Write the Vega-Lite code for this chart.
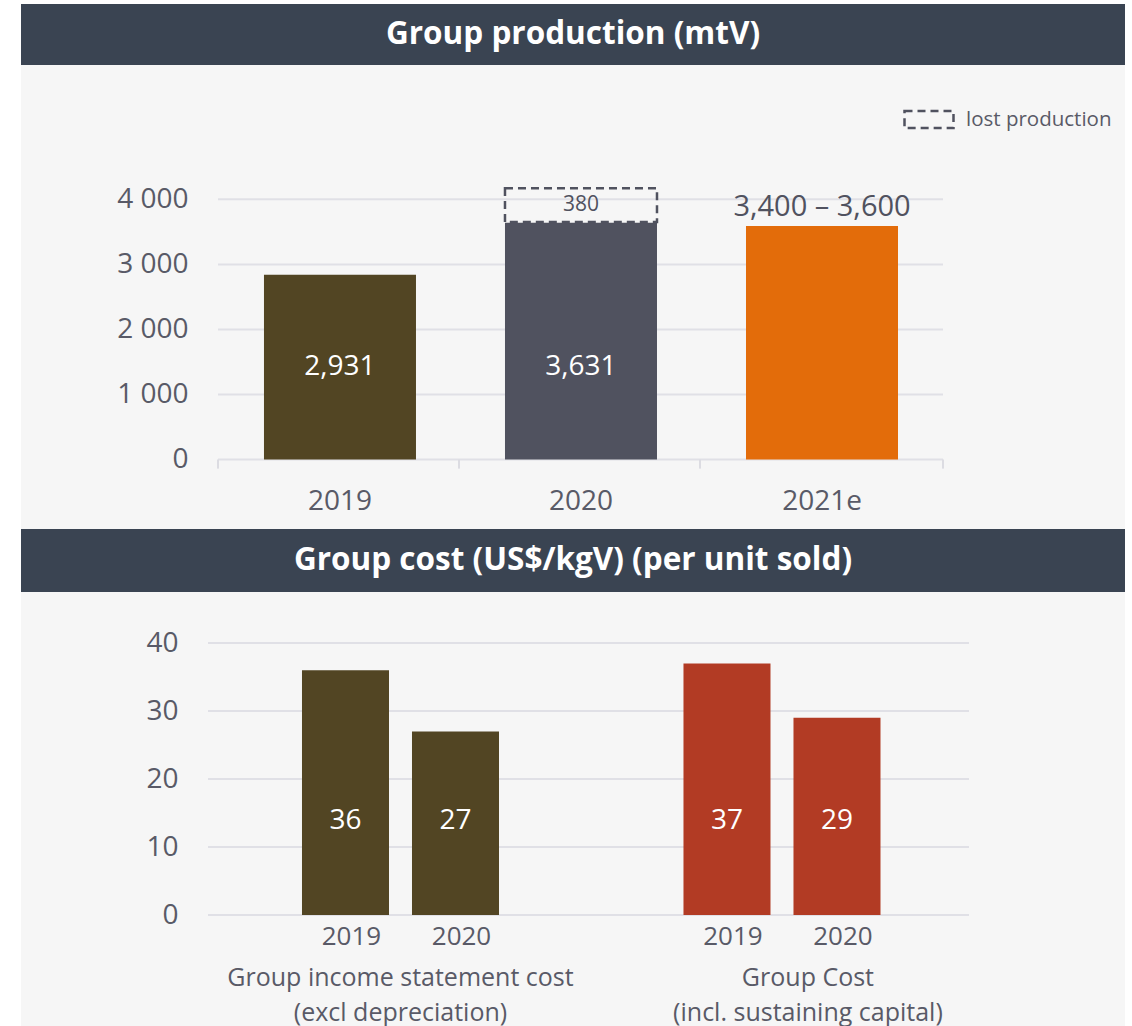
{
  "$schema": "https://vega.github.io/schema/vega-lite/v6.json",
  "background": "white",
  "padding": {"left": 21, "top": 4, "right": 0, "bottom": 0},
  "spacing": 0,
  "resolve": {"scale": {"color": "independent"}},
  "config": {
    "font": "Open Sans",
    "view": {"stroke": null},
    "axis": {"labelFont": "Open Sans", "labelColor": "#595a67"},
    "legend": {"labelFont": "Open Sans"}
  },
  "datasets": {
    "production": [
      {"year": "2019", "value": 2840, "inner": "2,931", "outer": ""},
      {"year": "2020", "value": 3640, "inner": "3,631", "outer": ""},
      {"year": "2021e", "value": 3590, "inner": "", "outer": "3,400 – 3,600"}
    ],
    "lost": [
      {"year": "2020", "start": 3650, "end": 4170, "label": "380", "kind": "lost production"}
    ],
    "gridTop": [{"tick": 0}, {"tick": 1000}, {"tick": 2000}, {"tick": 3000}, {"tick": 4000}],
    "cost": [
      {"group": "Group income statement cost (excl depreciation)", "year": "2019", "value": 36, "label": "36"},
      {"group": "Group income statement cost (excl depreciation)", "year": "2020", "value": 27, "label": "27"},
      {"group": "Group Cost (incl. sustaining capital)", "year": "2019", "value": 37, "label": "37"},
      {"group": "Group Cost (incl. sustaining capital)", "year": "2020", "value": 29, "label": "29"}
    ],
    "groups": [
      {"group": "Group income statement cost (excl depreciation)", "lines": ["Group income statement cost", "(excl depreciation)"]},
      {"group": "Group Cost (incl. sustaining capital)", "lines": ["Group Cost", "(incl. sustaining capital)"]}
    ],
    "gridBottom": [{"tick": 0}, {"tick": 10}, {"tick": 20}, {"tick": 30}, {"tick": 40}]
  },
  "vconcat": [
    {
      "width": 1104,
      "height": 61,
      "view": {"fill": "#3a4452", "stroke": null},
      "data": {"values": [{"title": "Group production (mtV)"}]},
      "mark": {"type": "text", "color": "white", "fontSize": 31.5, "fontWeight": "bold", "baseline": "middle", "font": "Open Sans"},
      "encoding": {"text": {"field": "title", "type": "nominal"}}
    },
    {
      "width": 1104,
      "height": 464,
      "view": {"fill": "#f6f6f6", "stroke": null},
      "layer": [
        {
          "data": {"name": "gridTop"},
          "mark": {"type": "rule", "color": "#e0e0e6", "strokeWidth": 2},
          "encoding": {
            "x": {"datum": "2019", "bandPosition": -0.3026, "title": null},
            "x2": {"datum": "2021e", "bandPosition": 1.296},
            "y": {"field": "tick", "type": "quantitative", "title": null}
          }
        },
        {
          "data": {"name": "production"},
          "mark": {"type": "rule", "color": "#dcdce2", "strokeWidth": 2},
          "encoding": {
            "x": {"field": "year", "type": "nominal", "bandPosition": -0.3026, "title": null},
            "y": {"datum": 0},
            "y2": {"datum": -140}
          }
        },
        {
          "data": {"name": "lost"},
          "mark": {"type": "rule", "color": "#dcdce2", "strokeWidth": 2},
          "encoding": {
            "x": {"datum": "2021e", "bandPosition": 1.296, "title": null},
            "y": {"datum": 0},
            "y2": {"datum": -140}
          }
        },
        {
          "data": {"name": "production"},
          "mark": {"type": "bar"},
          "encoding": {
            "x": {
              "field": "year", "type": "nominal", "title": null, "sort": null,
              "scale": {"domain": ["2019", "2020", "2021e"], "paddingInner": 0.3693, "paddingOuter": 0.975, "align": 0.517},
              "axis": {"orient": "bottom", "offset": -69.5, "domain": false, "ticks": false, "labelFontSize": 28, "labelPadding": 42, "labelAngle": 0, "labelAlign": "center", "grid": false, "title": null}
            },
            "y": {
              "field": "value", "type": "quantitative", "title": null,
              "scale": {"domain": [-1068, 6065], "nice": false, "zero": false},
              "axis": {"values": [0, 1000, 2000, 3000, 4000], "offset": -197, "labelPadding": 30, "labelFontSize": 28, "labelExpr": "replace(format(datum.value, ','), ',', ' ')", "ticks": false, "domain": false, "grid": false, "title": null}
            },
            "y2": {"datum": 0},
            "color": {"field": "year", "type": "nominal", "scale": {"domain": ["2019", "2020", "2021e"], "range": ["#524523", "#50525f", "#e36c0a"]}, "legend": null}
          }
        },
        {
          "data": {"name": "lost"},
          "mark": {"type": "bar", "fill": "transparent", "stroke": "#50525f", "strokeWidth": 2.5},
          "encoding": {
            "x": {"field": "year", "type": "nominal", "title": null},
            "y": {"field": "end", "type": "quantitative", "title": null},
            "y2": {"field": "start"},
            "strokeDash": {
              "field": "kind", "type": "nominal",
              "scale": {"domain": ["lost production"], "range": [[8, 5]]},
              "legend": {"orient": "none", "legendX": 882, "legendY": 89.5, "title": null, "symbolType": "M-1,-0.35H1V0.35H-1Z", "symbolSize": 2401, "symbolStrokeColor": "#50525f", "symbolFillColor": "transparent", "symbolStrokeWidth": 2.5, "labelFontSize": 20.5, "labelColor": "#595a67", "labelOffset": 11}
            }
          }
        },
        {
          "data": {"name": "lost"},
          "mark": {"type": "text", "fontSize": 21, "color": "#50525f", "baseline": "middle"},
          "encoding": {
            "x": {"field": "year", "type": "nominal", "title": null},
            "y": {"datum": 3910},
            "text": {"field": "label", "type": "nominal"}
          }
        },
        {
          "data": {"name": "production"},
          "mark": {"type": "text", "fontSize": 28, "color": "white", "baseline": "middle"},
          "encoding": {
            "x": {"field": "year", "type": "nominal", "title": null},
            "y": {"datum": 1420},
            "text": {"field": "inner", "type": "nominal"}
          }
        },
        {
          "data": {"name": "production"},
          "mark": {"type": "text", "fontSize": 29, "color": "#50525f", "baseline": "alphabetic", "dy": -10},
          "encoding": {
            "x": {"field": "year", "type": "nominal", "title": null},
            "y": {"field": "value", "type": "quantitative", "title": null},
            "text": {"field": "outer", "type": "nominal"}
          }
        }
      ]
    },
    {
      "width": 1104,
      "height": 63,
      "view": {"fill": "#3a4452", "stroke": null},
      "data": {"values": [{"title": "Group cost (US$/kgV) (per unit sold)"}]},
      "mark": {"type": "text", "color": "white", "fontSize": 31.5, "fontWeight": "bold", "baseline": "middle", "font": "Open Sans"},
      "encoding": {"text": {"field": "title", "type": "nominal"}}
    },
    {
      "width": 1104,
      "height": 434,
      "view": {"fill": "#f6f6f6", "stroke": null},
      "layer": [
        {
          "data": {"name": "gridBottom"},
          "mark": {"type": "rule", "color": "#e0e0e6", "strokeWidth": 2},
          "encoding": {
            "x": {"datum": "Group income statement cost (excl depreciation)", "bandPosition": -0.375, "title": null, "axis": null},
            "x2": {"datum": "Group Cost (incl. sustaining capital)", "bandPosition": 1.35},
            "y": {"field": "tick", "type": "quantitative", "title": null}
          }
        },
        {
          "data": {"name": "cost"},
          "mark": {"type": "bar"},
          "encoding": {
            "x": {
              "field": "group", "type": "nominal", "title": null, "sort": null,
              "scale": {"domain": ["Group income statement cost (excl depreciation)", "Group Cost (incl. sustaining capital)"], "paddingInner": 0.4233, "paddingOuter": 0.6586, "align": 0.5363},
              "axis": null
            },
            "xOffset": {"field": "year", "type": "nominal", "scale": {"domain": ["2019", "2020"], "paddingInner": 0.209, "paddingOuter": 0.1045}},
            "y": {
              "field": "value", "type": "quantitative", "title": null,
              "scale": {"domain": [-16.32, 47.5], "nice": false, "zero": false},
              "axis": {"values": [0, 10, 20, 30, 40], "offset": -187, "labelPadding": 30, "labelFontSize": 28, "ticks": false, "domain": false, "grid": false, "title": null}
            },
            "y2": {"datum": 0},
            "color": {"field": "group", "type": "nominal", "scale": {"domain": ["Group income statement cost (excl depreciation)", "Group Cost (incl. sustaining capital)"], "range": ["#524523", "#b23b24"]}, "legend": null}
          }
        },
        {
          "data": {"name": "cost"},
          "mark": {"type": "text", "fontSize": 28, "color": "white", "baseline": "middle"},
          "encoding": {
            "x": {"field": "group", "type": "nominal", "title": null, "sort": null, "axis": null},
            "xOffset": {"field": "year", "type": "nominal"},
            "y": {"datum": 13.8},
            "text": {"field": "label", "type": "nominal"}
          }
        },
        {
          "data": {"name": "cost"},
          "mark": {"type": "text", "fontSize": 26, "color": "#595a67", "baseline": "top", "dy": 9, "dx": 6},
          "encoding": {
            "x": {"field": "group", "type": "nominal", "title": null, "sort": null, "axis": null},
            "xOffset": {"field": "year", "type": "nominal"},
            "y": {"datum": 0},
            "text": {"field": "year", "type": "nominal"}
          }
        },
        {
          "data": {"name": "groups"},
          "transform": [{"filter": "datum.group === 'Group income statement cost (excl depreciation)'"}],
          "mark": {"type": "text", "fontSize": 25, "color": "#595a67", "baseline": "top", "align": "center", "lineHeight": 35, "dy": 51},
          "encoding": {
            "x": {"field": "group", "type": "nominal", "title": null, "axis": null, "bandPosition": 0.5},
            "y": {"datum": 0},
            "text": {"field": "lines", "type": "nominal"}
          }
        },
        {
          "data": {"name": "groups"},
          "transform": [{"filter": "datum.group === 'Group Cost (incl. sustaining capital)'"}],
          "mark": {"type": "text", "fontSize": 25, "color": "#595a67", "baseline": "top", "align": "center", "lineHeight": 35, "dy": 51},
          "encoding": {
            "x": {"field": "group", "type": "nominal", "title": null, "axis": null, "bandPosition": 0.618},
            "y": {"datum": 0},
            "text": {"field": "lines", "type": "nominal"}
          }
        }
      ]
    }
  ]
}
